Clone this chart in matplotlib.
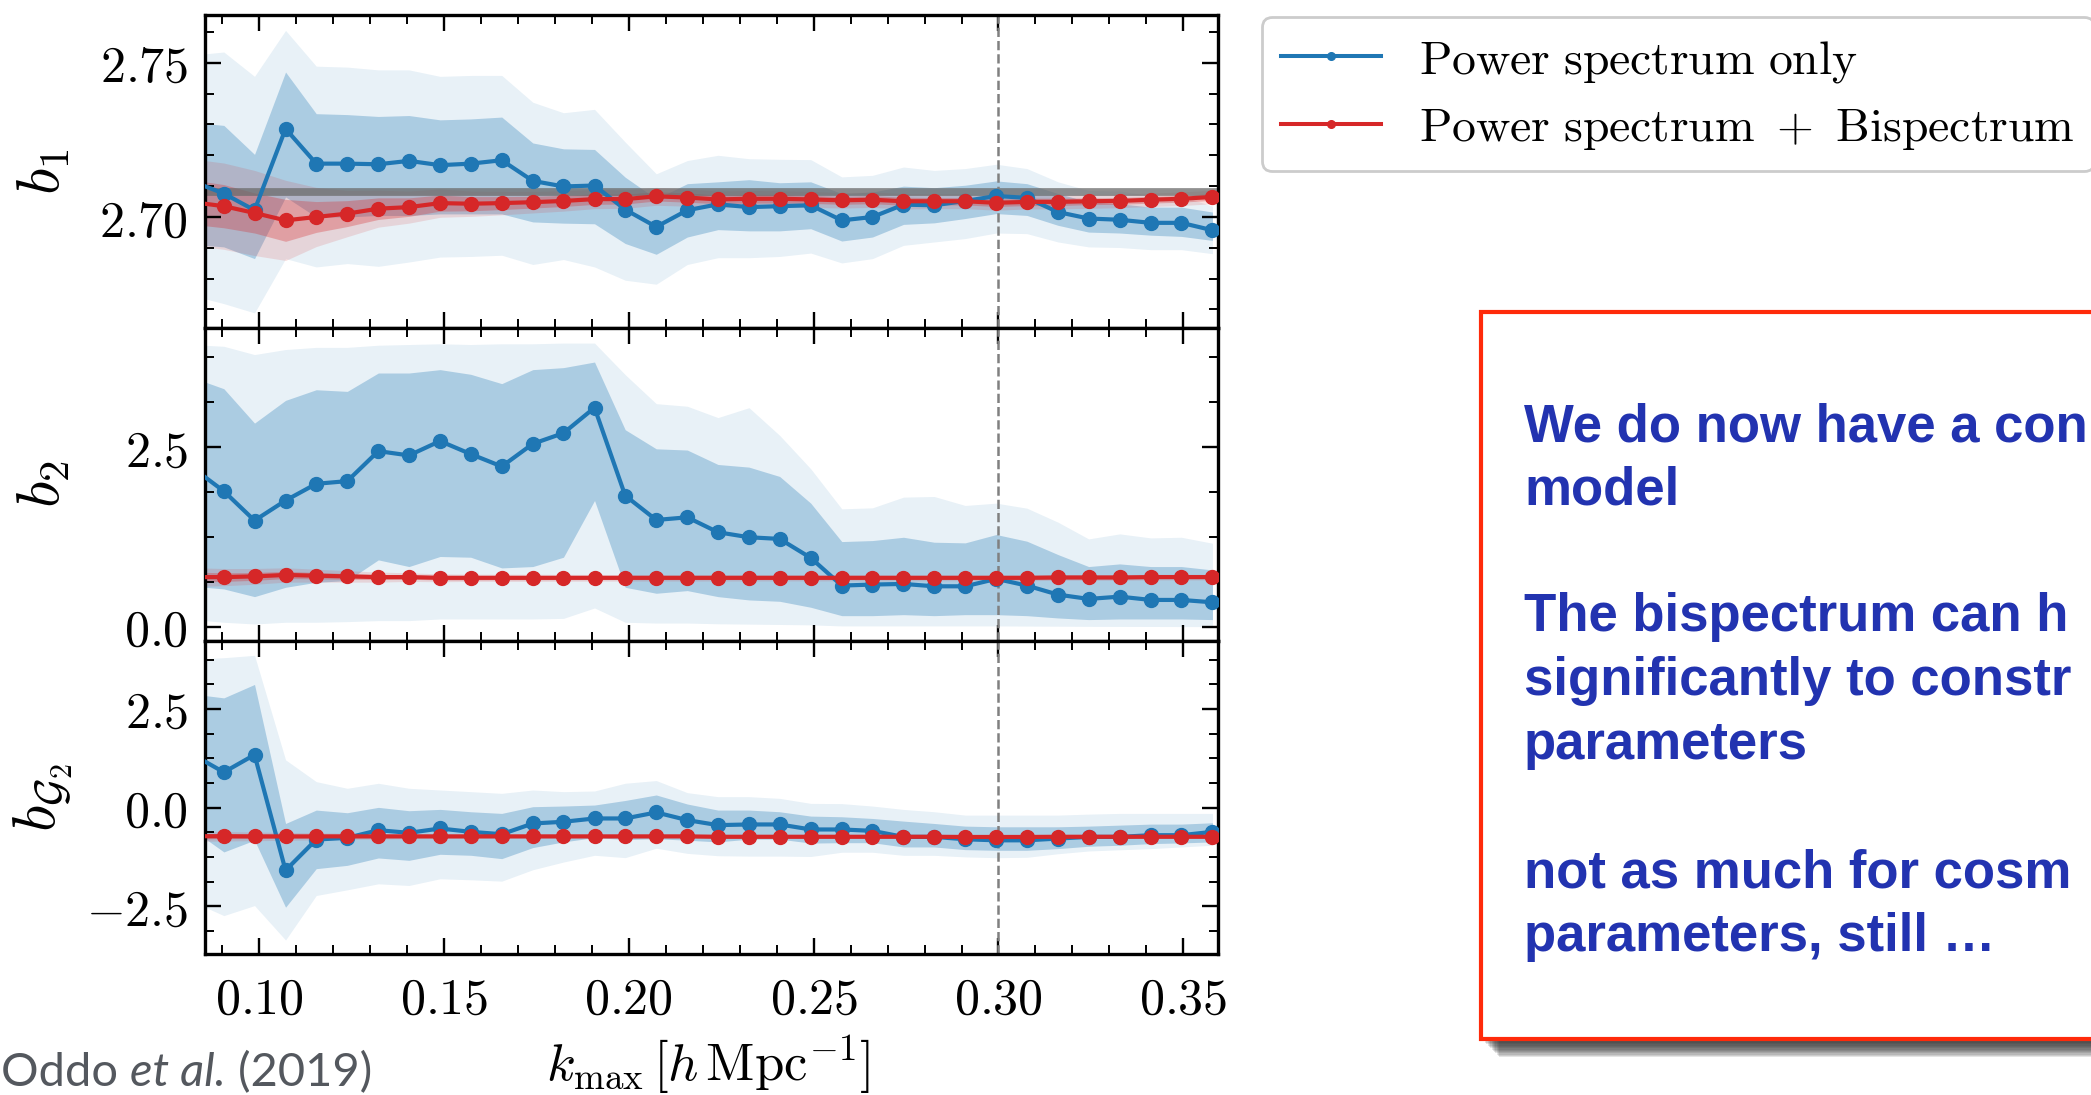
import numpy as np
import matplotlib
matplotlib.use('Agg')
import matplotlib.pyplot as plt
from matplotlib.ticker import MultipleLocator, FuncFormatter
from matplotlib.lines import Line2D
from matplotlib.patches import Rectangle

plt.rcParams['mathtext.fontset'] = 'cm'
plt.rcParams['font.family'] = ['DejaVu Serif']

# ---------------- data ----------------
k = [0.0820, 0.0904, 0.0987, 0.1071, 0.1154, 0.1238, 0.1322, 0.1405, 0.1489, 0.1572,
     0.1656, 0.1740, 0.1823, 0.1907, 0.1990, 0.2074, 0.2158, 0.2241, 0.2325, 0.2408,
     0.2492, 0.2576, 0.2659, 0.2743, 0.2826, 0.2910, 0.2994, 0.3077, 0.3161, 0.3244,
     0.3328, 0.3412, 0.3495, 0.3579]

# b1 -- power spectrum only (mean, 1 sigma and 2 sigma limits)
b1_P = [2.7115, 2.7076, 2.7022, 2.7286, 2.7173, 2.7173, 2.7171, 2.7182, 2.7168, 2.7173,
        2.7184, 2.7117, 2.7099, 2.7102, 2.7024, 2.6968, 2.7022, 2.7041, 2.7032, 2.7035,
        2.7038, 2.6989, 2.7000, 2.7040, 2.7038, 2.7052, 2.7068, 2.7062, 2.7016, 2.6995,
        2.6991, 2.6981, 2.6981, 2.6957]
b1_P_hi2 = [2.7525, 2.7535, 2.7456, 2.7605, 2.7489, 2.7486, 2.7477, 2.7477, 2.7456, 2.7459,
            2.7459, 2.7372, 2.7338, 2.7349, 2.7243, 2.7140, 2.7183, 2.7200, 2.7189, 2.7187,
            2.7186, 2.7130, 2.7135, 2.7162, 2.7151, 2.7157, 2.7171, 2.7157, 2.7114, 2.7086,
            2.7084, 2.7070, 2.7068, 2.7035]
b1_P_hi1 = [2.7307, 2.7297, 2.7203, 2.7470, 2.7335, 2.7332, 2.7326, 2.7329, 2.7315, 2.7318,
            2.7324, 2.7240, 2.7221, 2.7219, 2.7129, 2.7059, 2.7108, 2.7114, 2.7121, 2.7111,
            2.7114, 2.7076, 2.7081, 2.7100, 2.7095, 2.7103, 2.7117, 2.7108, 2.7076, 2.7049,
            2.7043, 2.7032, 2.7032, 2.7016]
b1_P_lo1 = [2.6911, 2.6903, 2.6865, 2.7065, 2.7000, 2.7000, 2.7005, 2.7005, 2.7010, 2.7010,
            2.7010, 2.6984, 2.6980, 2.6978, 2.6914, 2.6879, 2.6935, 2.6959, 2.6955, 2.6955,
            2.6962, 2.6922, 2.6935, 2.6976, 2.6981, 2.6995, 2.7011, 2.7005, 2.6973, 2.6951,
            2.6948, 2.6941, 2.6937, 2.6924]
b1_P_lo2 = [2.6745, 2.6719, 2.6689, 2.6865, 2.6838, 2.6849, 2.6840, 2.6854, 2.6870, 2.6872,
            2.6876, 2.6846, 2.6862, 2.6838, 2.6795, 2.6782, 2.6846, 2.6868, 2.6868, 2.6872,
            2.6883, 2.6851, 2.6865, 2.6908, 2.6919, 2.6930, 2.6948, 2.6946, 2.6919, 2.6903,
            2.6901, 2.6894, 2.6894, 2.6881]
# b1 -- power spectrum + bispectrum (mean, half widths of 1 and 2 sigma)
b1_PB = [2.7048, 2.7035, 2.7013, 2.6989, 2.7000, 2.7011, 2.7027, 2.7032, 2.7045, 2.7043,
         2.7045, 2.7048, 2.7052, 2.7058, 2.7058, 2.7067, 2.7063, 2.7057, 2.7059, 2.7059,
         2.7057, 2.7054, 2.7056, 2.7051, 2.7051, 2.7051, 2.7046, 2.7049, 2.7049, 2.7051,
         2.7052, 2.7056, 2.7059, 2.7065]
b1_PB_w1 = [0.0072, 0.0070, 0.0065, 0.0068, 0.0050, 0.0042, 0.0035, 0.0030, 0.0026, 0.0023,
            0.0021, 0.0019, 0.0018, 0.0017, 0.0016, 0.0015, 0.0015, 0.0014, 0.0014, 0.0014,
            0.0013, 0.0013, 0.0013, 0.0013, 0.0012, 0.0012, 0.0012, 0.0012, 0.0012, 0.0011,
            0.0011, 0.0011, 0.0011, 0.0011]
b1_PB_w2 = [0.0140, 0.0140, 0.0138, 0.0130, 0.0096, 0.0075, 0.0060, 0.0052, 0.0046, 0.0041,
            0.0038, 0.0035, 0.0033, 0.0031, 0.0030, 0.0029, 0.0028, 0.0027, 0.0027, 0.0026,
            0.0026, 0.0025, 0.0025, 0.0025, 0.0024, 0.0024, 0.0024, 0.0023, 0.0023, 0.0023,
            0.0022, 0.0022, 0.0022, 0.0022]
b1_true = 2.708

# b2
b2_P = [2.210, 1.887, 1.478, 1.757, 1.990, 2.027, 2.445, 2.385, 2.585, 2.404,
        2.231, 2.547, 2.696, 3.050, 1.825, 1.486, 1.523, 1.315, 1.245, 1.222,
        0.958, 0.572, 0.586, 0.595, 0.562, 0.562, 0.665, 0.572, 0.446, 0.386,
        0.418, 0.372, 0.372, 0.339]
b2_P_hi2 = [3.928, 3.905, 3.790, 3.860, 3.890, 3.890, 3.920, 3.930, 3.940, 3.930,
            3.940, 3.940, 3.950, 3.950, 3.510, 3.106, 3.070, 2.912, 3.050, 2.664,
            2.199, 1.641, 1.655, 1.804, 1.813, 1.688, 1.720, 1.650, 1.455, 1.222,
            1.292, 1.236, 1.245, 1.162]
b2_P_hi1 = [3.469, 3.314, 2.835, 3.152, 3.300, 3.277, 3.533, 3.533, 3.580, 3.515,
            3.385, 3.580, 3.608, 3.686, 2.743, 2.477, 2.460, 2.259, 2.222, 2.092,
            1.720, 1.185, 1.199, 1.245, 1.176, 1.167, 1.283, 1.190, 1.004, 0.837,
            0.874, 0.837, 0.837, 0.790]
b2_P_lo1 = [0.563, 0.525, 0.418, 0.548, 0.618, 0.641, 0.930, 0.837, 0.977, 0.967,
            0.818, 0.837, 0.967, 1.757, 0.548, 0.465, 0.502, 0.418, 0.372, 0.353,
            0.270, 0.153, 0.153, 0.167, 0.153, 0.167, 0.167, 0.153, 0.121, 0.098,
            0.107, 0.107, 0.107, 0.098]
b2_P_lo2 = [0.099, 0.061, 0.037, 0.061, 0.061, 0.070, 0.084, 0.084, 0.107, 0.107,
            0.107, 0.107, 0.115, 0.260, 0.061, 0.050, 0.050, 0.040, 0.035, 0.030,
            0.025, 0.010, 0.010, 0.010, 0.010, 0.010, 0.010, 0.008, 0.006, 0.004,
            0.003, 0.002, 0.001, 0.000]
b2_PB = [0.69, 0.69, 0.70, 0.72, 0.71, 0.70, 0.69, 0.69, 0.68, 0.68,
         0.68, 0.68, 0.68, 0.68, 0.68, 0.68, 0.68, 0.68, 0.68, 0.68,
         0.68, 0.68, 0.68, 0.68, 0.68, 0.68, 0.68, 0.68, 0.685, 0.685,
         0.685, 0.69, 0.69, 0.69]
b2_PB_w1 = [0.07, 0.06, 0.055, 0.05, 0.045, 0.04, 0.035, 0.03, 0.03, 0.03,
            0.028, 0.027, 0.026, 0.025, 0.025, 0.024, 0.024, 0.023, 0.023, 0.022,
            0.022, 0.022, 0.021, 0.021, 0.021, 0.020, 0.020, 0.020, 0.020, 0.020,
            0.020, 0.020, 0.020, 0.020]
b2_PB_w2 = [0.13, 0.12, 0.11, 0.10, 0.09, 0.08, 0.07, 0.06, 0.055, 0.05,
            0.05, 0.05, 0.048, 0.047, 0.046, 0.045, 0.045, 0.044, 0.044, 0.043,
            0.043, 0.042, 0.042, 0.041, 0.041, 0.040, 0.040, 0.040, 0.040, 0.040,
            0.040, 0.040, 0.040, 0.040]

# bG2
bG2_P = [1.342, 0.895, 1.337, -1.591, -0.810, -0.767, -0.573, -0.640, -0.530, -0.615,
         -0.675, -0.403, -0.360, -0.276, -0.276, -0.123, -0.318, -0.445, -0.428, -0.428,
         -0.555, -0.555, -0.590, -0.743, -0.743, -0.803, -0.830, -0.830, -0.785, -0.743,
         -0.743, -0.700, -0.700, -0.615]
bG2_P_hi2 = [3.756, 3.797, 3.857, 1.209, 0.657, 0.488, 0.615, 0.488, 0.445, 0.403,
             0.360, 0.445, 0.403, 0.420, 0.616, 0.684, 0.378, 0.276, 0.276, 0.233,
             0.106, 0.100, 0.038, -0.047, -0.106, -0.191, -0.191, -0.191, -0.191, -0.166,
             -0.148, -0.148, -0.148, -0.148]
bG2_P_hi1 = [2.876, 2.779, 3.119, -0.403, -0.064, -0.131, 0.005, -0.080, -0.046, -0.106,
             -0.148, 0.022, 0.039, 0.064, 0.180, 0.319, 0.090, -0.064, -0.064, -0.106,
             -0.216, -0.233, -0.276, -0.343, -0.403, -0.470, -0.487, -0.487, -0.487, -0.470,
             -0.445, -0.419, -0.419, -0.385]
bG2_P_lo1 = [-0.564, -1.124, -0.827, -2.525, -1.548, -1.464, -1.277, -1.337, -1.184, -1.209,
             -1.294, -1.014, -0.870, -0.760, -0.810, -0.790, -0.827, -0.870, -0.800, -0.800,
             -0.900, -0.890, -0.890, -0.998, -0.998, -1.066, -1.083, -1.083, -1.040, -0.980,
             -0.955, -0.913, -0.896, -0.870]
bG2_P_lo2 = [-2.386, -2.737, -2.483, -3.356, -2.228, -2.084, -1.932, -1.974, -1.804, -1.830,
             -1.864, -1.575, -1.380, -1.209, -1.268, -1.030, -1.160, -1.220, -1.230, -1.230,
             -1.240, -1.132, -1.132, -1.210, -1.210, -1.250, -1.270, -1.260, -1.170, -1.100,
             -1.070, -1.040, -0.998, -0.955]
bG2_PB = [-0.726, -0.726, -0.73, -0.73, -0.73, -0.73, -0.73, -0.73, -0.73, -0.73,
          -0.73, -0.73, -0.73, -0.73, -0.73, -0.73, -0.73, -0.74, -0.74, -0.74,
          -0.74, -0.74, -0.74, -0.74, -0.74, -0.745, -0.745, -0.745, -0.74, -0.74,
          -0.74, -0.74, -0.74, -0.74]
bG2_PB_w1 = [0.07, 0.06, 0.055, 0.05, 0.045, 0.04, 0.035, 0.03, 0.03, 0.03,
             0.028, 0.027, 0.026, 0.025, 0.025, 0.024, 0.024, 0.023, 0.023, 0.022,
             0.022, 0.022, 0.021, 0.021, 0.021, 0.020, 0.020, 0.020, 0.020, 0.020,
             0.020, 0.020, 0.020, 0.020]
bG2_PB_w2 = [0.13, 0.12, 0.11, 0.10, 0.09, 0.08, 0.07, 0.06, 0.055, 0.05,
             0.05, 0.05, 0.048, 0.047, 0.046, 0.045, 0.045, 0.044, 0.044, 0.043,
             0.043, 0.042, 0.042, 0.041, 0.041, 0.040, 0.040, 0.040, 0.040, 0.040,
             0.040, 0.040, 0.040, 0.040]

k_cut = 0.30
x_ticks = [0.10, 0.15, 0.20, 0.25, 0.30, 0.35]
ylabels = [r'$b_1$', r'$b_2$', r'$b_{\mathcal{G}_2}$']
xlabel = r'$k_{\rm max}\,[h\,{\rm Mpc}^{-1}]$'
legend_labels = [r'$\mathrm{Power\ spectrum\ only}$',
                 r'$\mathrm{Power\ spectrum}\ +\ \mathrm{Bispectrum}$']
# visible part of the slide text (the slide is cropped at the right edge)
box_lines = ["We do now have a con", "model", "",
             "The bispectrum can h", "significantly to constr", "parameters", "",
             "not as much for cosm", "parameters, still \u2026"]
citation = "Oddo "

# ---------------- figure ----------------
W, H = 2091, 1095
fig = plt.figure(figsize=(W / 100, H / 100), dpi=100)

BLUE = '#1f77b4'
RED = '#d62728'

panels = [
    dict(P=b1_P, lo2=b1_P_lo2, lo1=b1_P_lo1, hi1=b1_P_hi1, hi2=b1_P_hi2,
         PB=b1_PB, w1=b1_PB_w1, w2=b1_PB_w2, ylim=(2.664, 2.7655),
         major=0.05, minor=0.01, fmt='%.2f', true=b1_true),
    dict(P=b2_P, lo2=b2_P_lo2, lo1=b2_P_lo1, hi1=b2_P_hi1, hi2=b2_P_hi2,
         PB=b2_PB, w1=b2_PB_w1, w2=b2_PB_w2, ylim=(-0.2, 4.16),
         major=2.5, minor=0.625, fmt='%.1f', true=None),
    dict(P=bG2_P, lo2=bG2_P_lo2, lo1=bG2_P_lo1, hi1=bG2_P_hi1, hi2=bG2_P_hi2,
         PB=bG2_PB, w1=bG2_PB_w1, w2=bG2_PB_w2, ylim=(-3.71, 4.22),
         major=2.5, minor=0.625, fmt='%.1f', true=None),
]

left_px, right_px, top_px, bot_px = 205, 1218, 15, 954
ph = (bot_px - top_px) / 3.0
kk = np.array(k)
axes = []
for n, p in enumerate(panels):
    ytop = top_px + n * ph
    ax = fig.add_axes([left_px / W, 1 - (ytop + ph) / H, (right_px - left_px) / W, ph / H])
    axes.append(ax)
    PB = np.array(p['PB']); w1 = np.array(p['w1']); w2 = np.array(p['w2'])
    ax.fill_between(kk, p['lo2'], p['hi2'], color=BLUE, alpha=0.10, lw=0, zorder=1)
    ax.fill_between(kk, p['lo1'], p['hi1'], color=BLUE, alpha=0.30, lw=0, zorder=1.1)
    ax.fill_between(kk, PB - w2, PB + w2, color=RED, alpha=0.14, lw=0, zorder=1.2)
    ax.fill_between(kk, PB - w1, PB + w1, color=RED, alpha=0.30, lw=0, zorder=1.3)
    if p['true'] is not None:
        ax.axhline(p['true'], color='0.42', alpha=0.75, lw=5.6, zorder=1.5)
    ax.axvline(k_cut, color='0.5', ls='--', lw=1.8, zorder=1.6)
    ax.plot(kk, p['P'], '-o', color=BLUE, lw=3.0, ms=10.0, zorder=3)
    ax.plot(kk, PB, '-o', color=RED, lw=3.0, ms=10.0, zorder=4)

    ax.set_xlim(0.0853, 0.3594)
    ax.set_ylim(*p['ylim'])
    ax.xaxis.set_major_locator(plt.FixedLocator(x_ticks))
    ax.xaxis.set_minor_locator(MultipleLocator(0.01))
    ax.yaxis.set_major_locator(MultipleLocator(p['major']))
    ax.yaxis.set_minor_locator(MultipleLocator(p['minor']))
    fmt = p['fmt']
    ax.yaxis.set_major_formatter(FuncFormatter(lambda v, pos, f=fmt: r'$' + (f % v) + r'$'))
    ax.xaxis.set_major_formatter(FuncFormatter(lambda v, pos: r'$%.2f$' % v))
    ax.tick_params(which='both', direction='in', top=True, right=True)
    ax.tick_params(which='major', length=11.5, width=1.7, labelsize=36, pad=12)
    ax.tick_params(which='minor', length=6.5, width=1.4)
    ax.tick_params(axis='x', pad=15)
    for s in ax.spines.values():
        s.set_linewidth(2.4)
    if n < 2:
        ax.tick_params(axis='x', labelbottom=False)
    ax.set_ylabel(ylabels[n], fontsize=44)
    ax.yaxis.set_label_coords(-0.16, 0.5)
    ax.yaxis.label.set_va('center')

axes[2].set_xlabel(xlabel, fontsize=38)
axes[2].xaxis.set_label_coords(0.497, -0.352)
axes[2].xaxis.label.set_va('center')

# legend
handles = [Line2D([], [], color=BLUE, lw=2.9, marker='o', ms=5.5),
           Line2D([], [], color=RED, lw=2.9, marker='o', ms=5.5)]
leg = fig.legend(handles, legend_labels, loc='upper left',
                 bbox_to_anchor=(1262 / W, 1 - 17 / H), borderaxespad=0, fontsize=34.3,
                 frameon=True, fancybox=True, framealpha=1, edgecolor='#cccccc',
                 handlelength=2.1, handletextpad=0.8, labelspacing=0.40, borderpad=0.4)
leg.get_frame().set_linewidth(2.0)

# text box with shadow
bx0, by_top, by_bot = 1481, 312, 1039
for s in range(12):
    off = 4 + s * 1.3
    fig.patches.append(Rectangle(((bx0 + off) / W, 1 - (by_bot + off) / H),
                                 (2200 - bx0) / W, (by_bot - by_top) / H,
                                 transform=fig.transFigure, facecolor='0.15',
                                 edgecolor='none', alpha=0.12, zorder=1))
fig.patches.append(Rectangle((bx0 / W, 1 - by_bot / H), (2200 - bx0) / W,
                             (by_bot - by_top) / H, transform=fig.transFigure,
                             facecolor='white', edgecolor='#ff2a0a', lw=3.0, zorder=2))
baselines = [442, 505, 568, 631, 695, 759, 823, 887, 951]
for line, yb in zip(box_lines, baselines):
    if line:
        fig.text(1524 / W, 1 - yb / H, line, fontsize=38, fontweight='bold',
                 family=['Liberation Sans', 'DejaVu Sans'], color='#2233b0',
                 ha='left', va='baseline', zorder=3)

# citation
cy = 1 - 1086 / H
t1 = fig.text(1 / W, cy, citation, fontsize=33.8, family=['Lato', 'DejaVu Sans'],
              color='#54585e', ha='left', va='baseline')
fig.canvas.draw()
bb = t1.get_window_extent()
t2 = fig.text(bb.x1 / W, cy, "et al.", fontsize=33.8, style='italic',
              family=['Lato', 'DejaVu Sans'], color='#54585e', ha='left', va='baseline')
bb2 = t2.get_window_extent()
fig.text(bb2.x1 / W, cy, " (2019)", fontsize=33.8, family=['Lato', 'DejaVu Sans'],
         color='#54585e', ha='left', va='baseline')

fig.savefig('out.png', dpi=100)
